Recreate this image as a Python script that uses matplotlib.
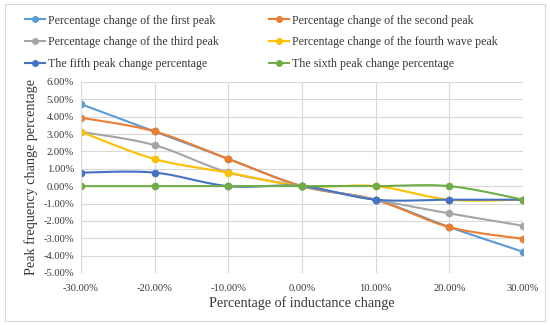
import numpy as np
import matplotlib
matplotlib.use("Agg")
import matplotlib.pyplot as plt
from matplotlib.patches import Rectangle
from matplotlib.ticker import PercentFormatter

# inductance change (%)
x_vals = [-30, -20, -10, 0, 10, 20, 30]

first_peak = [4.72, 3.15, 1.57, 0.0, -0.79, -2.36, -3.78]
second_peak = [3.94, 3.15, 1.57, 0.0, -0.79, -2.36, -3.03]
third_peak = [3.13, 2.36, 0.79, 0.0, -0.79, -1.57, -2.28]
fourth_peak = [3.13, 1.56, 0.78, 0.0, 0.0, -0.78, -0.78]
fifth_peak = [0.78, 0.78, 0.0, 0.0, -0.78, -0.78, -0.78]
sixth_peak = [0.0, 0.0, 0.0, 0.0, 0.0, 0.0, -0.78]

labels = [
    "Percentage change of the first peak",
    "Percentage change of the second peak",
    "Percentage change of the third peak",
    "Percentage change of the fourth wave peak",
    "The fifth peak change percentage",
    "The sixth peak change percentage",
]
colors = ["#5B9BD5", "#ED7D31", "#A5A5A5", "#FFC000", "#4472C4", "#70AD47"]

plt.rcParams["font.family"] = ["Liberation Serif"]
plt.rcParams["axes.unicode_minus"] = False
txt = "#383838"


def smooth(xs, ys, n=24):
    """Excel-style smoothed line: cubic bezier through points"""
    p = np.column_stack([xs, ys]).astype(float)
    pts = [p[0]]
    for i in range(len(p) - 1):
        p0 = p[i - 1] if i > 0 else p[i]
        p1, p2 = p[i], p[i + 1]
        p3 = p[i + 2] if i + 2 < len(p) else p[i + 1]
        c1 = p1 + (p2 - p0) / 6
        c2 = p2 - (p3 - p1) / 6
        t = np.linspace(0, 1, n)[1:, None]
        seg = ((1 - t) ** 3) * p1 + 3 * ((1 - t) ** 2) * t * c1 + 3 * (1 - t) * t ** 2 * c2 + t ** 3 * p2
        pts.extend(seg)
    pts = np.array(pts)
    return pts[:, 0], pts[:, 1]


fig = plt.figure(figsize=(5.5, 3.25), dpi=100)
ax = fig.add_axes([0.147, 0.16, 0.804, 0.588])

series = [first_peak, second_peak, third_peak, fourth_peak, fifth_peak, sixth_peak]
handles = []
for ys, c, lab in zip(series, colors, labels):
    sx, sy = smooth(x_vals, ys)
    ax.plot(sx, sy, color=c, lw=1.5)
    ax.plot(x_vals, ys, "o", color=c, ms=4.5)
    h, = ax.plot([], [], "-o", color=c, lw=1.5, ms=4, label=lab)
    handles.append(h)

ax.set_xlim(-30, 30)
ax.set_ylim(-5, 6)
ax.set_xticks(x_vals)
ax.set_yticks(np.arange(-5, 7, 1))
ax.xaxis.set_major_formatter(PercentFormatter(decimals=2))
ax.yaxis.set_major_formatter(PercentFormatter(decimals=2))
ax.grid(True, color="#D9D9D9", lw=0.8)
ax.set_axisbelow(True)
for s in ax.spines.values():
    s.set_visible(False)
ax.spines["left"].set_visible(True)
ax.spines["left"].set_color("#D9D9D9")
ax.tick_params(length=0, labelsize=7.6, colors=txt)
ax.tick_params(axis="x", pad=8)
ax.tick_params(axis="y", pad=5)
ax.set_xlabel("Percentage of inductance change", fontsize=10.2, color=txt, labelpad=2)
ax.set_ylabel("Peak frequency change percentage", fontsize=10.2, color=txt, labelpad=4)

# row-wise order: legend fills columns first
order = [0, 2, 4, 1, 3, 5]
fig.legend([handles[i] for i in order], [labels[i] for i in order],
           loc="upper left", bbox_to_anchor=(0.045, 0.955), ncol=2, frameon=False,
           fontsize=8.6, handlelength=1.7, columnspacing=4.2, labelspacing=0.8,
           handletextpad=0.25, labelcolor=txt, borderpad=0, borderaxespad=0)

fig.patches.append(Rectangle((0.009, 0.012), 0.982, 0.976, transform=fig.transFigure,
                             fill=False, edgecolor="#D9D9D9", lw=0.8))

fig.savefig("out.png", dpi=100)
